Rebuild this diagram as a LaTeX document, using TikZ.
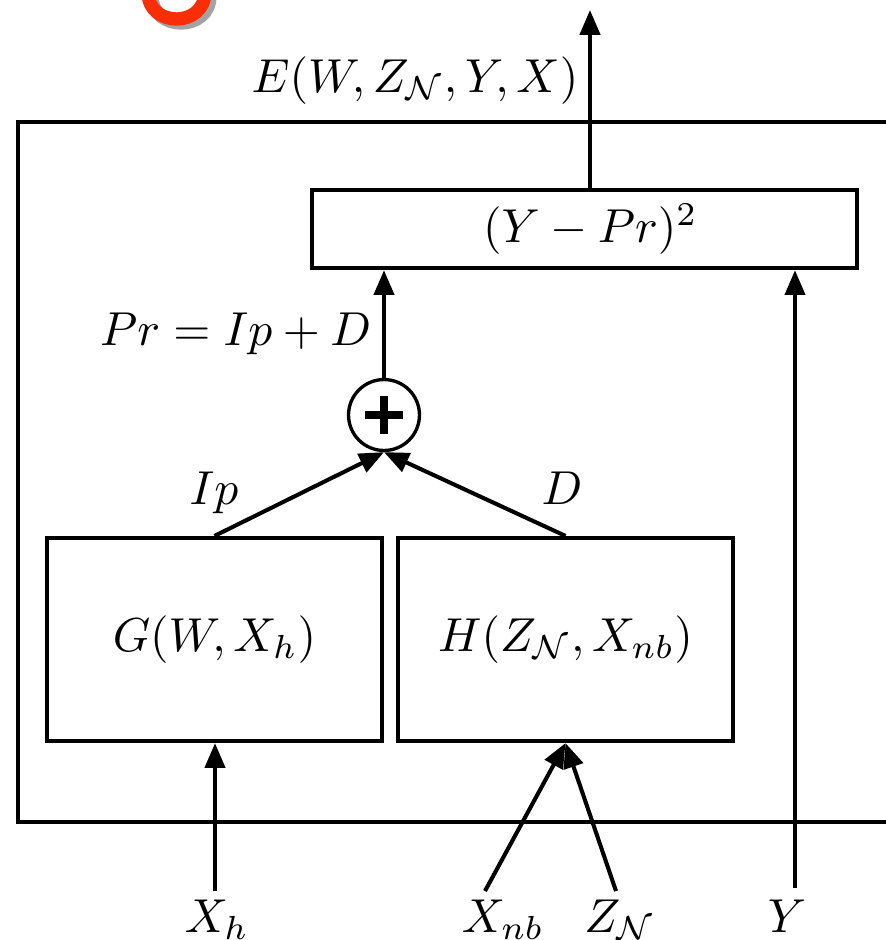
\documentclass[tikz,border=0pt]{standalone}
\usetikzlibrary{arrows.meta}
\definecolor{gred}{RGB}{250,45,5}
\definecolor{gshadow}{RGB}{140,140,140}
\begin{document}
\begin{tikzpicture}[x=0.21pt,y=-0.21pt,
  line width=0.85pt,
  arr/.style={-{Triangle[length=5.2pt,width=4.2pt]}},
  blk/.style={draw,line width=0.9pt,inner sep=0pt,rectangle}]
\useasboundingbox (0,0) rectangle (886,940);
\clip (0,0) rectangle (886,940);
% cropped red title glyph with shadow
\draw[gshadow,opacity=0.8,line width=2.8pt] (152,-4) .. controls (152,32) and (210,32) .. (210,-4);
\draw[gred,line width=2.8pt] (148,-8) .. controls (148,28) and (205,28) .. (205,-8);
% outer frame
\draw[line width=0.95pt] (900,122) -- (18,122) -- (18,822) -- (900,822);
% blocks
\node[blk,minimum width=114.45pt,minimum height=16.4pt] (sq) at (584.5,229) {\hspace*{2.5pt}$(Y-Pr)^2$};
\node[blk,minimum width=70.35pt,minimum height=42.6pt] (G) at (214.5,639.5) {$G(W,X_h)$};
\node[blk,minimum width=70.35pt,minimum height=42.6pt] (H) at (565.5,639.5) {$H(Z_{\mathcal{N}},X_{nb})$};
\node[circle,draw,line width=0.7pt,minimum size=14.9pt,inner sep=0pt] (plus) at (384,415) {};
\draw[line width=1.7pt] ([xshift=-3.9pt]plus.center) -- ([xshift=3.9pt]plus.center);
\draw[line width=1.7pt] ([yshift=-3.9pt]plus.center) -- ([yshift=3.9pt]plus.center);
% labels
\node[anchor=base] (elab) at (415,92) {$E(W,Z_{\mathcal{N}},Y,X)$};
\node[anchor=base east,inner sep=1pt] (prlab) at (378,345) {$Pr=Ip+D$};
\node[anchor=base] (iplab) at (214,504) {$Ip$};
\node[anchor=base] (dlab) at (562,504) {$D$};
\node[anchor=base] (xhlab) at (217,932) {$X_h$};
\node[anchor=base] (xnblab) at (503,932) {$X_{nb}$};
\node[anchor=base] (znlab) at (620,932) {$Z_{\mathcal{N}}$};
\node[anchor=base] (ylab) at (787,932) {$Y$};
% connectors
\draw[arr] (G.north) -- (plus.south);
\draw[arr] (H.north) -- (plus.south);
\draw[arr] (plus.north) -- (sq.south -| plus.north);
\coordinate (eout) at (590,10);
\draw[arr] (sq.north -| eout) -- (eout);
\coordinate (xh) at (215,891);
\draw[arr] (xh) -- (xh |- G.south);
\coordinate (xnb) at (485,891);
\draw[arr] (xnb) -- (H.south);
\coordinate (zn) at (616,891);
\draw[arr] (zn) -- (H.south);
\coordinate (yin) at (795,888);
\draw[arr] (yin) -- (yin |- sq.south);
\end{tikzpicture}
\end{document}
